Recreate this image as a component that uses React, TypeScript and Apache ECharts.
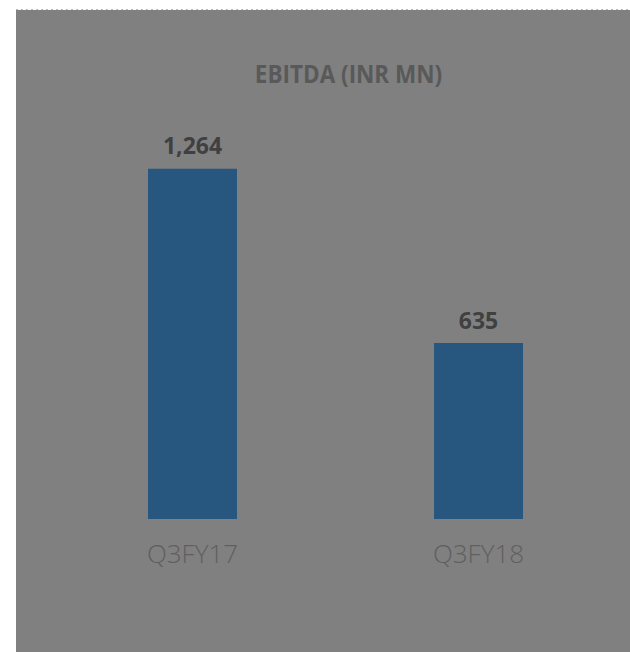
import React, { useEffect, useRef } from "react";
import * as echarts from "echarts";

const categories = ["Q3FY17", "Q3FY18"];
const ebitdaValues = [1264, 635];
const titleText = "EBITDA (INR MN)";

export default function App() {
  const ref = useRef<HTMLDivElement>(null);
  useEffect(() => {
    document.body.style.margin = "0";
    const chart = echarts.init(ref.current!, null, { renderer: "svg" });
    chart.setOption({
      animation: false,
      backgroundColor: "#ffffff",
      graphic: [
        { type: "rect", shape: { x: 16, y: 10, width: 614, height: 642 }, style: { fill: "#808080" }, z: -10 },
        { type: "line", shape: { x1: 16, y1: 9.5, x2: 630, y2: 9.5 }, style: { stroke: "#b8b8b8", lineWidth: 1, lineDash: [2, 3] }, z: -9 },
        {
          type: "text",
          x: 348.5,
          y: 74,
          scaleX: 0.9,
          style: {
            text: titleText,
            x: 0,
            y: 0,
            align: "center",
            verticalAlign: "middle",
            fontFamily: "Open Sans",
            fontWeight: "bold",
            fontSize: 25,
            fill: "#595959",
          },
        },
      ],
      grid: { left: 49.5, right: 8.5, top: 131, bottom: 133 },
      xAxis: {
        type: "category",
        data: categories,
        axisLine: { show: false },
        axisTick: { show: false },
        axisLabel: { color: "#5f5f5f", fontSize: 26, fontFamily: "Open Sans", fontWeight: 300, margin: 21 },
      },
      yAxis: { type: "value", min: 0, max: 1400, show: false, splitLine: { show: false } },
      series: [
        {
          type: "bar",
          data: ebitdaValues,
          barWidth: 89,
          itemStyle: { color: "#27577f" },
          label: {
            show: true,
            position: "top",
            distance: 12,
            formatter: (p: any) => p.value.toLocaleString("en-US"),
            color: "#404040",
            fontSize: 23,
            fontWeight: "bold",
            fontFamily: "Open Sans",
          },
        },
      ],
    });
    return () => chart.dispose();
  }, []);
  return <div ref={ref} style={{ width: 630, height: 652 }} />;
}
